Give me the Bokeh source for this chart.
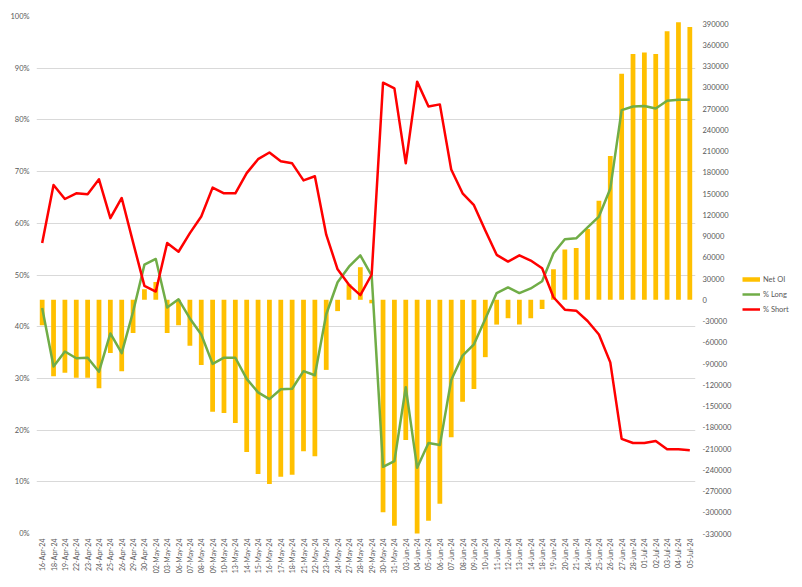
import math
from bokeh.plotting import figure
from bokeh.layouts import row
from bokeh.models import (Range1d, LinearAxis, FixedTicker, PrintfTickFormatter,
                          NumeralTickFormatter, Legend, LegendItem, FactorRange)
from bokeh.embed import file_html
from bokeh.resources import INLINE

dates = ["16-Apr-24", "18-Apr-24", "19-Apr-24", "22-Apr-24", "23-Apr-24", "24-Apr-24",
         "25-Apr-24", "26-Apr-24", "29-Apr-24", "30-Apr-24",
         "02-May-24", "03-May-24", "06-May-24", "07-May-24", "08-May-24", "09-May-24",
         "10-May-24", "13-May-24", "14-May-24", "15-May-24", "16-May-24", "17-May-24",
         "18-May-24", "21-May-24", "22-May-24", "23-May-24", "24-May-24", "27-May-24",
         "28-May-24", "29-May-24", "30-May-24", "31-May-24",
         "03-Jun-24", "04-Jun-24", "05-Jun-24", "06-Jun-24", "07-Jun-24", "08-Jun-24",
         "09-Jun-24", "10-Jun-24", "11-Jun-24", "12-Jun-24", "13-Jun-24", "14-Jun-24",
         "18-Jun-24", "19-Jun-24", "20-Jun-24", "21-Jun-24", "24-Jun-24", "25-Jun-24",
         "26-Jun-24", "27-Jun-24", "28-Jun-24",
         "01-Jul-24", "02-Jul-24", "03-Jul-24", "04-Jul-24", "05-Jul-24"]

net_oi = [-36000, -108000, -103000, -110000, -110000, -125000, -75000, -101000, -47000, 15000,
          25000, -47000, -36000, -65000, -92000, -158000, -160000, -174000, -215000, -246000,
          -260000, -250000, -247000, -214000, -221000, -99000, -16000, 22000, 46000, -5000,
          -300000, -319000, -198000, -331000, -312000, -288000, -194000, -144000, -126000, -81000,
          -35000, -26000, -35000, -26000, -13000, 43000, 71000, 73000, 100000, 140000,
          203000, 319000, 347000, 349000, 347000, 379000, 392000, 385000]

pct_long = [43.6, 32.3, 35.2, 33.9, 34.0, 31.3, 38.7, 34.9, 42.9, 52.0,
            53.1, 43.7, 45.3, 41.6, 38.5, 32.8, 34.0, 34.0, 29.9, 27.3,
            26.0, 27.9, 28.0, 31.4, 30.6, 42.4, 48.6, 51.6, 53.8, 49.9,
            12.9, 14.0, 28.3, 12.7, 17.5, 17.1, 29.7, 34.4, 36.6, 41.5,
            46.5, 47.6, 46.5, 47.4, 48.8, 54.2, 56.9, 57.1, 59.2, 61.3,
            66.7, 81.9, 82.6, 82.7, 82.2, 83.7, 83.9, 83.9]

pct_short = [56.2, 67.4, 64.7, 65.8, 65.6, 68.5, 61.0, 64.9, 56.3, 47.9,
             46.8, 56.2, 54.5, 58.1, 61.3, 66.9, 65.8, 65.8, 69.7, 72.4,
             73.7, 72.0, 71.6, 68.3, 69.1, 57.8, 51.1, 48.1, 46.1, 50.1,
             87.2, 86.1, 71.6, 87.4, 82.6, 83.0, 70.4, 65.8, 63.5, 58.6,
             53.9, 52.6, 53.8, 52.8, 51.3, 45.7, 43.3, 43.1, 41.1, 38.5,
             33.1, 18.3, 17.5, 17.5, 17.9, 16.3, 16.3, 16.1]

series_names = ["Net OI", "% Long", "% Short"]
series_colors = ["#FFC000", "#70AD47", "#FF0000"]

pct_ticks = list(range(0, 101, 10))
oi_ticks = list(range(-330000, 390001, 30000))

FONT = "Lato"
TXT = "#595959"
GRID = "#d9d9d9"

p = figure(width=736, height=579, x_range=FactorRange(*dates), y_range=Range1d(0, 100),
           output_backend="svg", toolbar_location=None, title=None,
           min_border_left=36, min_border_right=41, min_border_top=16, min_border_bottom=46)
p.outline_line_color = None
p.background_fill_color = "white"
p.border_fill_color = "white"
p.extra_y_ranges = {"oi": Range1d(-330000, 400000)}

p.vbar(x=dates, top=net_oi, bottom=0, width=0.42, y_range_name="oi",
       fill_color=series_colors[0], line_color=None)
p.line(x=dates, y=pct_long, line_color=series_colors[1], line_width=2.5, line_join="round")
p.line(x=dates, y=pct_short, line_color=series_colors[2], line_width=2.5, line_join="round")


def style_axis(ax, standoff, size):
    ax.axis_line_color = None
    ax.major_tick_line_color = None
    ax.minor_tick_line_color = None
    ax.major_tick_out = 0
    ax.major_tick_in = 0
    ax.minor_tick_out = 0
    ax.minor_tick_in = 0
    ax.major_label_standoff = standoff
    ax.major_label_text_font = FONT
    ax.major_label_text_font_size = size
    ax.major_label_text_color = TXT


ya = p.yaxis[0]
ya.ticker = FixedTicker(ticks=pct_ticks)
ya.formatter = PrintfTickFormatter(format="%d%%")
style_axis(ya, 7, "7.5px")

ra = LinearAxis(y_range_name="oi", ticker=FixedTicker(ticks=oi_ticks),
                formatter=NumeralTickFormatter(format="0"))
style_axis(ra, 7, "7.5px")
p.add_layout(ra, "right")

xa = p.xaxis[0]
xa.major_label_orientation = math.pi / 2
style_axis(xa, 5, "7px")

p.xgrid.grid_line_color = None
p.ygrid.ticker = FixedTicker(ticks=pct_ticks)
p.ygrid.grid_line_color = GRID
p.ygrid.grid_line_width = 1

# legend panel (separate small figure so it is not clipped by the plot frame)
lg = figure(width=58, height=579, x_range=Range1d(0, 58), y_range=Range1d(0, 579),
            output_backend="svg", toolbar_location=None, title=None,
            x_axis_location=None, y_axis_location=None,
            min_border_left=0, min_border_right=0, min_border_top=0, min_border_bottom=0)
lg.outline_line_color = None
lg.grid.grid_line_color = None
lg.background_fill_color = "white"
lg.border_fill_color = "white"

proxies = []
for name, col in zip(series_names, series_colors):
    lw = 4.5 if name == "Net OI" else 2.5
    r = lg.line(x=[-100, -90], y=[-100, -100], line_color=col, line_width=lw, line_cap="butt")
    proxies.append(LegendItem(label=name, renderers=[r]))

legend = Legend(items=proxies, location=(6, 219), orientation="vertical",
                glyph_width=18, glyph_height=10, label_height=10, spacing=5,
                label_standoff=3, padding=0, margin=0,
                border_line_color=None, background_fill_alpha=0,
                label_text_font=FONT, label_text_font_size="7.5px",
                label_text_color=TXT)
lg.add_layout(legend, "center")

layout = row(p, lg)
open("out.html", "w").write(file_html(layout, INLINE))
